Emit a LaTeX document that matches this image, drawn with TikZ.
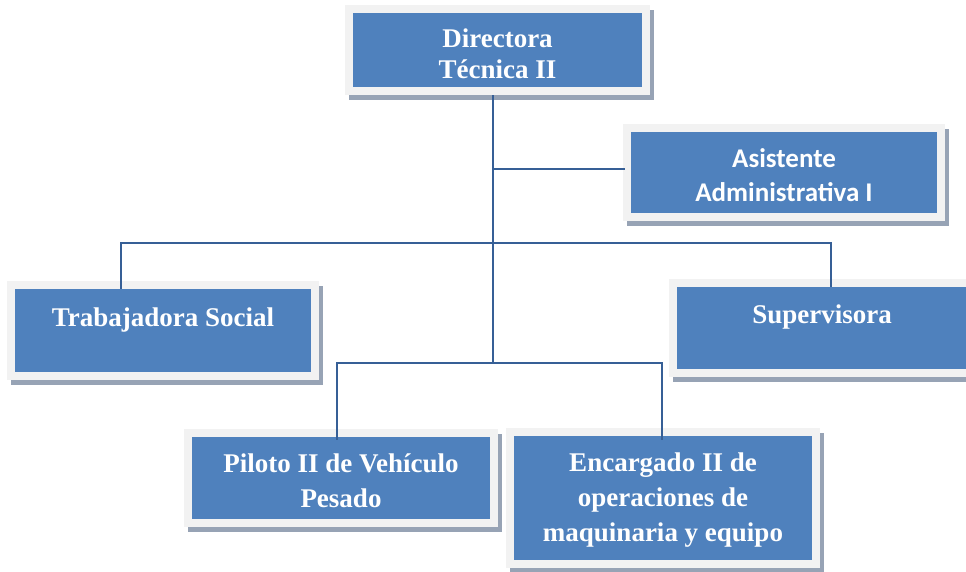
\documentclass[tikz,border=0pt]{standalone}
\usepackage{fontspec}
\setmainfont{Liberation Serif}
\newfontfamily\calib{Carlito}
\usetikzlibrary{calc}
\definecolor{boxblue}{HTML}{4F81BD}
\definecolor{framegray}{HTML}{F2F2F2}
\definecolor{shadowc}{HTML}{97A3B5}
\definecolor{linec}{HTML}{365F96}
\tikzset{
  orgbox/.style={rectangle, inner sep=0pt, fill=boxblue,
    preaction={draw=shadowc, fill=shadowc, line width=16pt,
      transform canvas={xshift=4pt, yshift=-5pt}},
    preaction={draw=framegray, line width=16pt}},
  boxtext/.style={text=white, align=center, inner sep=0pt,
    font=\bfseries\fontsize{27}{35}\selectfont},
  conn/.style={draw=linec, line width=2pt}
}
\begin{document}
\begin{tikzpicture}[x=1pt, y=-1pt]
\useasboundingbox (0,0) rectangle (966,571);
\clip (0,0) rectangle (966,571);
\fill[white] (0,0) rectangle (966,571);

\node[orgbox, minimum width=289pt, minimum height=74pt,
  label={[boxtext, yshift=-4pt, font=\bfseries\fontsize{27}{31}\selectfont]center:{Directora\\Técnica II}}] (dir) at (497.5,50) {};
\node[orgbox, minimum width=306pt, minimum height=81pt,
  label={[boxtext, yshift=-3pt, font=\calib\bfseries\fontsize{27}{34}\selectfont]center:{Asistente\\Administrativa I}}] (asis) at (784,172.5) {};
\node[orgbox, minimum width=296pt, minimum height=83pt,
  label={[boxtext, yshift=-4pt, font=\bfseries\fontsize{27}{34}\selectfont]center:{Trabajadora Social\\\mbox{}}}] (trab) at (163,330.5) {};
\node[orgbox, minimum width=290pt, minimum height=82pt,
  label={[boxtext, yshift=-2pt, font=\bfseries\fontsize{27}{32}\selectfont]center:{Supervisora\\\mbox{}}}] (sup) at (822,328) {};
\node[orgbox, minimum width=298pt, minimum height=82pt,
  label={[boxtext, yshift=-3pt]center:{Piloto II de Vehículo\\Pesado}}] (pil) at (341,478) {};
\node[orgbox, minimum width=298pt, minimum height=124pt,
  label={[boxtext, yshift=-2pt]center:{Encargado II de\\operaciones de\\maquinaria y equipo}}] (enc) at (663,498) {};

\coordinate (ja) at (492.5,168.5);
\coordinate (j2) at (492.5,243);
\coordinate (j3) at (492.5,362.7);

\draw[conn] ($(dir.south)+(-5,8)$) -- (j3);
\draw[conn] (ja) -- ($(asis.west)+(-6,-4)$);
\draw[conn] ($(trab.north)+(-42,0)$) |- (j2) -| ($(sup.north)+(9,0)$);
\draw[conn] ($(pil.north)+(-4,3)$) |- (j3) -| ($(enc.north)+(-1,4)$);
\end{tikzpicture}
\end{document}
